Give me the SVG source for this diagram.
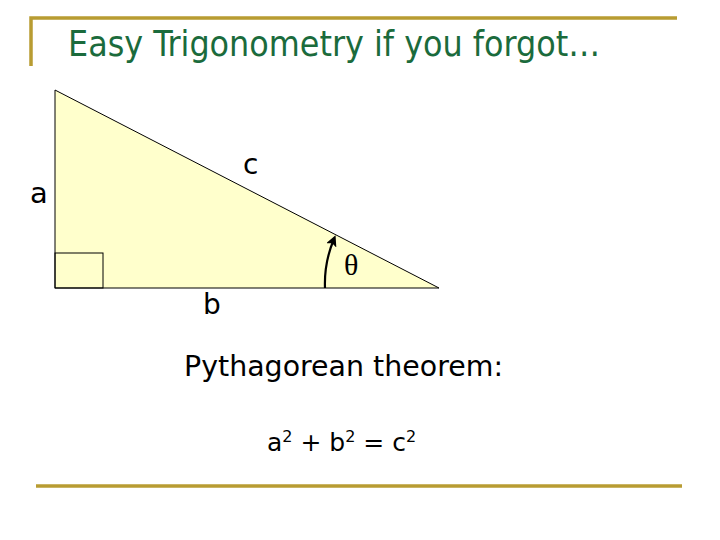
<svg xmlns="http://www.w3.org/2000/svg" width="720" height="540" viewBox="0 0 720 540">
<style>
.gold{stroke:#B89C32;stroke-width:3.5;fill:none}
.lbl{font-family:"DejaVu Sans","Liberation Sans",sans-serif;fill:#000}
.edge{stroke:#000;stroke-width:1;fill:none}
</style>
<defs>
<marker id="ah" markerWidth="11" markerHeight="11" refX="7" refY="5.5" orient="auto" markerUnits="userSpaceOnUse" viewBox="0 0 11 11">
<path d="M0,0 L11,5.5 L0,11 L2.5,5.5 Z" fill="#000"/>
</marker>
</defs>
<rect width="720" height="540" fill="#fff"/>
<g id="frame">
<path class="gold" d="M31,66 V18 H677"/>
<path class="gold" d="M36,486 H682"/>
</g>
<g id="title">
<text x="68" y="56" font-family="DejaVu Sans Condensed, DejaVu Sans, sans-serif" font-size="35" fill="#1B6B3C" textLength="532" lengthAdjust="spacingAndGlyphs">Easy Trigonometry if you forgot…</text>
</g>
<g id="triangle">
<path d="M55,90 L55,288 L439,288 Z" fill="#FFFFCC" stroke="#000" stroke-width="1"/>
<rect x="55" y="253" width="48" height="35" class="edge"/>
</g>
<g id="connectors">
<path d="M325,288 A114,114 0 0 1 334,239" stroke="#000" stroke-width="2.2" fill="none" marker-end="url(#ah)"/>
</g>
<g id="labels">
<text class="lbl" x="30" y="203" font-size="29">a</text>
<text class="lbl" x="243" y="174" font-size="28">c</text>
<text x="344" y="275" font-family="Liberation Serif, serif" font-size="30">θ</text>
<text class="lbl" x="203" y="314" font-size="28">b</text>
</g>
<g id="theorem">
<text class="lbl" x="184" y="376" font-size="28" textLength="319" lengthAdjust="spacingAndGlyphs">Pythagorean theorem:</text>
<text class="lbl" x="267" y="451" font-size="25">a<tspan font-size="16" dy="-9">2</tspan><tspan dy="9"> + b</tspan><tspan font-size="16" dy="-9">2</tspan><tspan dy="9"> = c</tspan><tspan font-size="16" dy="-9">2</tspan></text>
</g>
</svg>
